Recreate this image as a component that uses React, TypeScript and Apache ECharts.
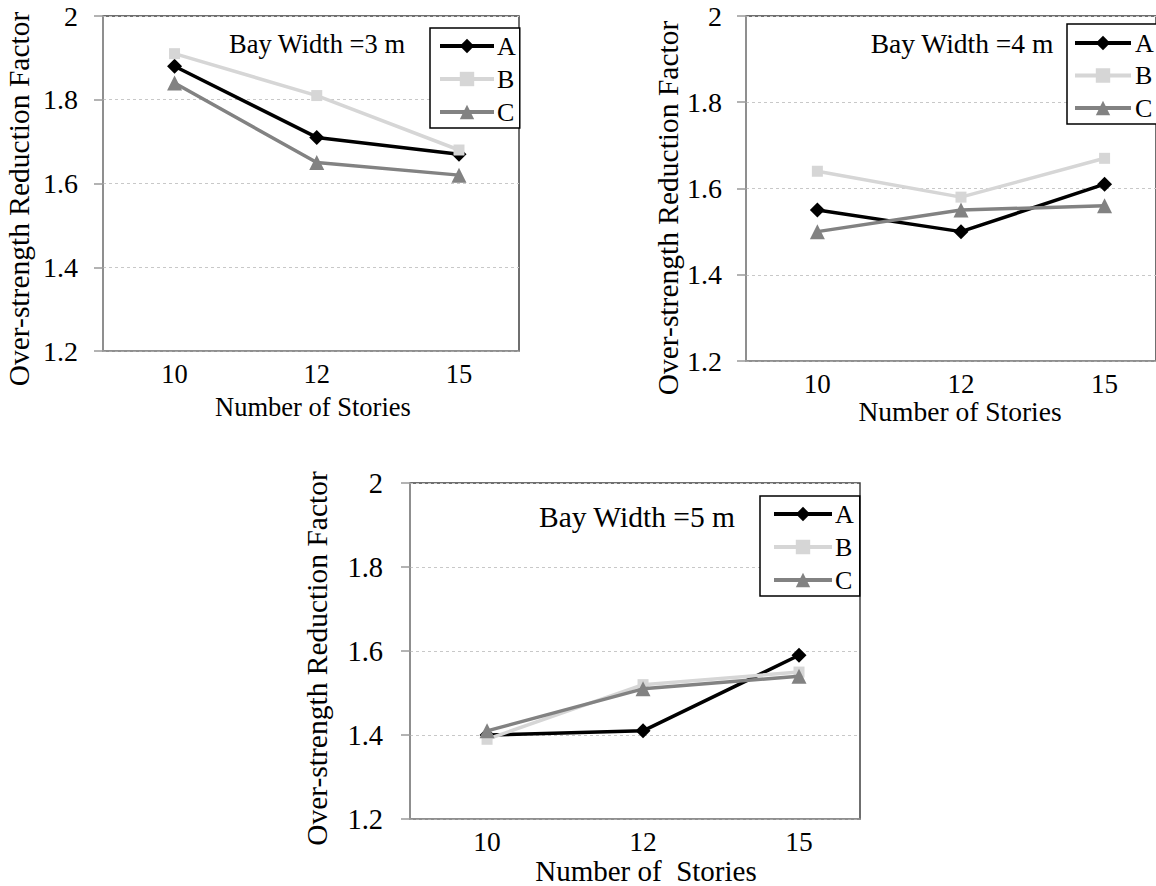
import React, { useEffect, useRef } from "react";
import * as echarts from "echarts";

const categories = ["10", "12", "15"];
const seriesNames = ["A", "B", "C"];
const yTicks = { min: 1.2, max: 2, interval: 0.2 };

const bay3A = [1.88, 1.71, 1.67];
const bay3B = [1.91, 1.81, 1.68];
const bay3C = [1.84, 1.65, 1.62];

const bay4A = [1.55, 1.5, 1.61];
const bay4B = [1.64, 1.58, 1.67];
const bay4C = [1.5, 1.55, 1.56];

const bay5A = [1.4, 1.41, 1.59];
const bay5B = [1.39, 1.52, 1.55];
const bay5C = [1.41, 1.51, 1.54];

const titles = ["Bay Width =3 m", "Bay Width =4 m", "Bay Width =5 m"];
const xNames = ["Number of Stories", "Number of Stories", "Number of  Stories"];
const yName = "Over-strength Reduction Factor";

const FONT = "Liberation Serif";

const styles = [
  { color: "#000000", symbol: "diamond", size: 15 },
  { color: "#d6d6d6", symbol: "rect", size: 11 },
  { color: "#828282", symbol: "triangle", size: 15 },
];

const panels = [
  {
    data: [bay3A, bay3B, bay3C],
    grid: { left: 103, top: 16, width: 416, height: 335 },
    xMin: -0.503, xMax: 2.422,
    xFont: 26.5, yFont: 28, xNameFont: 26.5, titleFont: 26.5,
    xLabelMargin: 9, xNameGap: 42, xNamePad: 4,
    yLabelMargin: 25, yNameGap: 69, yNamePad: 31,
    title: { x: 317, y: 44 },
    legend: { left: 430, top: 28, itemWidth: 54, pad: [5, 4, 3, 8], gap: 3, itemGap: 7 },
  },
  {
    data: [bay4A, bay4B, bay4C],
    grid: { left: 746, top: 16, width: 414, height: 345 },
    xMin: -0.497, xMax: 2.358,
    xFont: 27, yFont: 28, xNameFont: 27.5, titleFont: 27.5,
    xLabelMargin: 9, xNameGap: 34, xNamePad: 18,
    yLabelMargin: 24, yNameGap: 40, yNamePad: 39,
    title: { x: 962, y: 43 },
    legend: { left: 1067, top: 24, itemWidth: 56, pad: [6, 4, 3, 6], gap: 4, itemGap: 6.5 },
  },
  {
    data: [bay5A, bay5B, bay5C],
    grid: { left: 410, top: 483, width: 450, height: 339 },
    xMin: -0.494, xMax: 2.391,
    xFont: 27.5, yFont: 28.5, xNameFont: 29, titleFont: 29.5,
    xLabelMargin: 8, xNameGap: 33, xNamePad: 22,
    yLabelMargin: 27, yNameGap: 78, yNamePad: 15,
    title: { x: 637, y: 517 },
    legend: { left: 760, top: 496, itemWidth: 58, pad: [5, 6, 3, 12], gap: 3, itemGap: 7 },
  },
];

export default function App() {
  const ref = useRef<HTMLDivElement>(null);

  useEffect(() => {
    if (!ref.current) return;
    const chart = echarts.init(ref.current, undefined, { renderer: "svg" });

    const grid: any[] = [];
    const xAxis: any[] = [];
    const yAxis: any[] = [];
    const series: any[] = [];
    const legend: any[] = [];
    const graphic: any[] = [];

    panels.forEach((p, i) => {
      grid.push({
        ...p.grid,
        show: true,
        borderColor: "#404040",
        borderWidth: 1.5,
        backgroundColor: "#fff",
        containLabel: false,
      });
      xAxis.push({
        type: "value",
        gridIndex: i,
        min: p.xMin,
        max: p.xMax,
        axisLine: { show: true, onZero: false, lineStyle: { color: "#9a9a9a", width: 1.5 } },
        axisTick: { show: false },
        splitLine: { show: false },
        axisLabel: {
          customValues: [0, 1, 2],
          formatter: (v: number) => {
            const k = Math.round(v);
            return Math.abs(v - k) < 1e-6 && categories[k] ? categories[k] : "";
          },
          fontSize: p.xFont,
          fontFamily: FONT,
          color: "#000",
          margin: p.xLabelMargin,
        },
        name: xNames[i],
        nameLocation: "middle",
        nameGap: p.xNameGap,
        nameTextStyle: {
          fontSize: p.xNameFont,
          fontFamily: FONT,
          color: "#000",
          padding: [0, 0, 0, p.xNamePad],
        },
      });
      yAxis.push({
        type: "value",
        gridIndex: i,
        min: yTicks.min,
        max: yTicks.max,
        interval: yTicks.interval,
        axisLine: { show: true, onZero: false, lineStyle: { color: "#9a9a9a", width: 1.5 } },
        axisTick: { show: true, inside: false, length: 9, lineStyle: { color: "#9a9a9a", width: 1.5 } },
        splitLine: {
          show: true,
          lineStyle: { color: "#c8c8c8", width: 1, type: [3, 3] },
        },
        axisLabel: {
          formatter: (v: number) => String(Number(v.toFixed(1))),
          fontSize: p.yFont,
          fontFamily: FONT,
          color: "#000",
          margin: p.yLabelMargin,
        },
        name: yName,
        nameLocation: "middle",
        nameRotate: 90,
        nameGap: p.yNameGap,
        nameTextStyle: {
          fontSize: 29.5,
          fontFamily: FONT,
          color: "#000",
          padding: [0, p.yNamePad, 0, 0],
        },
      });
      p.data.forEach((vals, s) => {
        const st = styles[s];
        series.push({
          type: "line",
          name: seriesNames[s],
          xAxisIndex: i,
          yAxisIndex: i,
          data: vals.map((v, j) => [j, v]),
          symbol: st.symbol,
          symbolSize: st.size,
          showSymbol: true,
          lineStyle: { color: st.color, width: 3.5 },
          itemStyle: { color: st.color },
          emphasis: { disabled: true },
          z: 3 + s,
        });
      });
      legend.push({
        data: seriesNames,
        orient: "vertical",
        left: p.legend.left,
        top: p.legend.top,
        itemWidth: p.legend.itemWidth,
        itemHeight: 18,
        itemGap: p.legend.itemGap,
        padding: p.legend.pad,
        borderColor: "#000",
        borderWidth: 1.5,
        backgroundColor: "#fff",
        selectedMode: false,
        lineStyle: { width: 4 },
        textStyle: {
          fontSize: 26,
          fontFamily: FONT,
          color: "#000",
          lineHeight: 26,
          padding: [0, 0, 0, p.legend.gap - 5],
        },
      });
      graphic.push({
        type: "text",
        x: p.title.x,
        y: p.title.y,
        z: 10,
        style: {
          text: titles[i],
          fontSize: p.titleFont,
          fontFamily: FONT,
          fill: "#000",
          align: "center",
          verticalAlign: "middle",
        },
      });
    });

    chart.setOption({
      animation: false,
      backgroundColor: "#fff",
      grid,
      xAxis,
      yAxis,
      series,
      legend,
      graphic,
    });

    return () => chart.dispose();
  }, []);

  return (
    <div
      ref={ref}
      style={{
        position: "fixed",
        left: 0,
        top: 0,
        width: 1156,
        height: 886,
        background: "#fff",
        overflow: "hidden",
      }}
    />
  );
}
